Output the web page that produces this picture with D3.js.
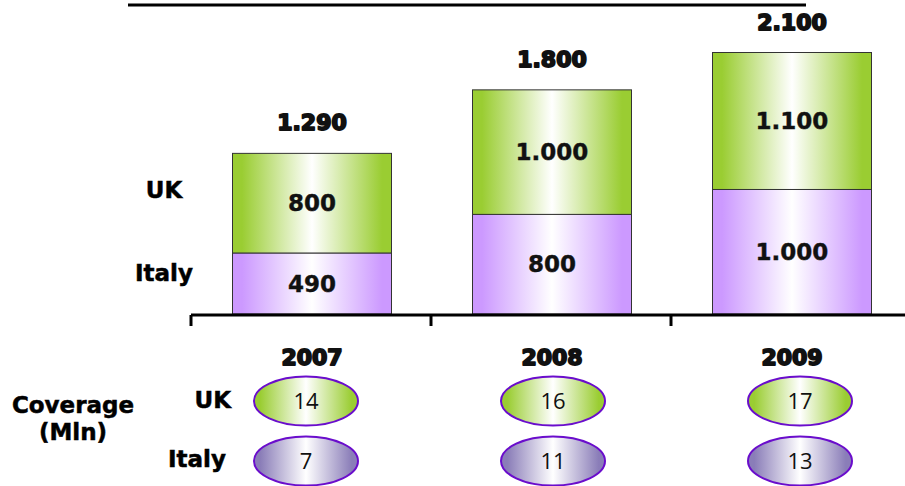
<!DOCTYPE html>
<html>
<head>
<meta charset="utf-8">
<script src="https://cdn.jsdelivr.net/npm/d3@7"></script>
<style>
  html, body { margin: 0; padding: 0; background: #fff; }
  svg { display: block; }
</style>
</head>
<body>
<svg id="chart" width="905" height="486"></svg>
<script>
// Revenue by country, stacked per year
const years = ["2007", "2008", "2009"];
const italyValues = [490, 800, 1000];
const ukValues = [800, 1000, 1100];
const totals = ["1.290", "1.800", "2.100"];
const italyLabels = ["490", "800", "1.000"];
const ukLabels = ["800", "1.000", "1.100"];

// Coverage in millions
const coverageUK = [14, 16, 17];
const coverageItaly = [7, 11, 13];

const svg = d3.select("#chart");
const boldFont = "'DejaVu Sans', Verdana, sans-serif";
const lightFont = "'Open Sans', 'Noto Sans', sans-serif";

const x = d3.scaleBand()
  .domain(years)
  .range([192, 912])
  .paddingInner(0.3375)
  .paddingOuter(0.16875);

const y = d3.scaleLinear().domain([0, 2100]).range([314, 52.5]);

// gradients: saturated edges fading to white in the middle
const defs = svg.append("defs");
function hGradient(id, edge) {
  const g = defs.append("linearGradient").attr("id", id)
    .attr("x1", "0%").attr("x2", "100%").attr("y1", "0%").attr("y2", "0%");
  [[0, edge], [0.06, edge], [0.5, "#ffffff"], [0.94, edge], [1, edge]]
    .forEach(([o, c]) => g.append("stop").attr("offset", o).attr("stop-color", c));
}
hGradient("gUK", "#9acd32");
hGradient("gIT", "#cc99ff");
hGradient("gUKe", "#9acd32");
hGradient("gITe", "#8a7db8");

// top rule
svg.append("line")
  .attr("x1", 128).attr("x2", 806).attr("y1", 5).attr("y2", 5)
  .attr("stroke", "#000").attr("stroke-width", 3);

const stacks = years.map((yr, i) => ({
  year: yr, italy: italyValues[i], uk: ukValues[i], i
}));

// Italy segments
svg.selectAll("rect.italy").data(stacks).join("rect")
  .attr("class", "italy")
  .attr("x", d => x(d.year))
  .attr("width", x.bandwidth())
  .attr("y", d => y(d.italy))
  .attr("height", d => y(0) - y(d.italy))
  .attr("fill", "url(#gIT)")
  .attr("stroke", "#333").attr("stroke-width", 1);

// UK segments
svg.selectAll("rect.uk").data(stacks).join("rect")
  .attr("class", "uk")
  .attr("x", d => x(d.year))
  .attr("width", x.bandwidth())
  .attr("y", d => y(d.italy + d.uk))
  .attr("height", d => y(d.italy) - y(d.italy + d.uk))
  .attr("fill", "url(#gUK)")
  .attr("stroke", "#333").attr("stroke-width", 1);

function valueText(sel) {
  return sel
    .attr("text-anchor", "middle")
    .attr("font-family", boldFont).attr("font-weight", "bold").attr("font-size", 23)
    .attr("fill", "#111").attr("stroke", "#111").attr("stroke-width", 0.4);
}

// segment values
valueText(svg.selectAll("text.itv").data(stacks).join("text"))
  .attr("x", d => x(d.year) + x.bandwidth() / 2)
  .attr("y", d => (y(0) + y(d.italy)) / 2)
  .attr("dy", "0.36em")
  .text(d => italyLabels[d.i]);

valueText(svg.selectAll("text.ukv").data(stacks).join("text"))
  .attr("x", d => x(d.year) + x.bandwidth() / 2)
  .attr("y", d => (y(d.italy) + y(d.italy + d.uk)) / 2)
  .attr("dy", "0.36em")
  .text(d => ukLabels[d.i]);

// totals above each stack
svg.selectAll("text.tot").data(stacks).join("text")
  .attr("x", d => x(d.year) + x.bandwidth() / 2)
  .attr("y", d => y(d.italy + d.uk) - 23)
  .attr("text-anchor", "middle")
  .attr("font-family", boldFont).attr("font-weight", "bold").attr("font-size", 22)
  .attr("fill", "#111").attr("stroke", "#111").attr("stroke-width", 1.8)
  .attr("stroke-linejoin", "round")
  .text(d => totals[d.i]);

// category axis with ticks between bands
const base = y(0) + 1;
const x0 = x.range()[0] - 1;
svg.append("line")
  .attr("x1", x0).attr("x2", 905).attr("y1", base).attr("y2", base)
  .attr("stroke", "#000").attr("stroke-width", 3);
svg.selectAll("line.tick").data(years).join("line")
  .attr("x1", (d, i) => x0 + i * x.step())
  .attr("x2", (d, i) => x0 + i * x.step())
  .attr("y1", base).attr("y2", base + 11)
  .attr("stroke", "#000").attr("stroke-width", 3);

// year labels
svg.selectAll("text.year").data(years).join("text")
  .attr("x", d => x(d) + x.bandwidth() / 2)
  .attr("y", 365)
  .attr("text-anchor", "middle")
  .attr("font-family", boldFont).attr("font-weight", "bold").attr("font-size", 22)
  .attr("fill", "#111").attr("stroke", "#111").attr("stroke-width", 1.8)
  .attr("stroke-linejoin", "round")
  .text(d => d);

// series labels
function boldLabel(txt, px, py, anchor) {
  svg.append("text")
    .attr("x", px).attr("y", py).attr("dy", "0.36em")
    .attr("text-anchor", anchor || "middle")
    .attr("font-family", boldFont).attr("font-weight", "bold").attr("font-size", 23)
    .attr("fill", "#000").attr("stroke", "#000").attr("stroke-width", 0.5)
    .text(txt);
}
boldLabel("UK", 164, 190);
boldLabel("Italy", 164, 273);

// coverage rows
boldLabel("Coverage", 73, 405);
boldLabel("(Mln)", 73, 432);
boldLabel("UK", 231, 400, "end");
boldLabel("Italy", 226, 459, "end");

const ex = d3.scalePoint().domain(years).range([306, 800]);
const rows = [
  { values: coverageUK, cy: 401, fill: "url(#gUKe)" },
  { values: coverageItaly, cy: 461, fill: "url(#gITe)" }
];
rows.forEach(r => {
  const g = svg.append("g");
  g.selectAll("ellipse").data(years).join("ellipse")
    .attr("cx", d => ex(d)).attr("cy", r.cy)
    .attr("rx", 52).attr("ry", 24.5)
    .attr("fill", r.fill)
    .attr("stroke", "#6a0dcc").attr("stroke-width", 2);
  g.selectAll("text").data(years).join("text")
    .attr("x", d => ex(d)).attr("y", r.cy).attr("dy", "0.36em")
    .attr("text-anchor", "middle")
    .attr("font-family", lightFont).attr("font-size", 22)
    .attr("fill", "#111")
    .text((d, i) => r.values[i]);
});
</script>
</body>
</html>
